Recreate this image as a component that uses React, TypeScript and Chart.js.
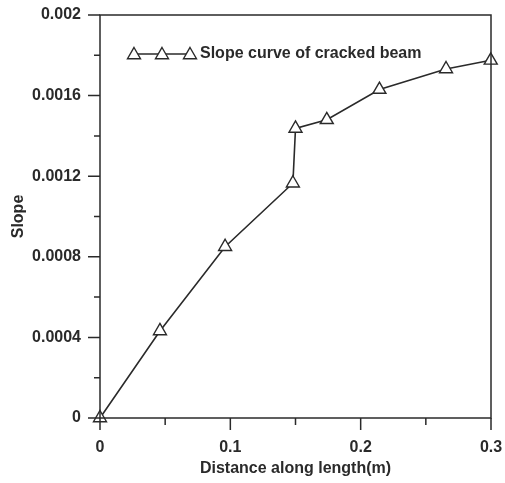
import React, { useEffect, useRef } from "react";
import { Chart, registerables } from "chart.js";
import { drawPoint } from "chart.js/helpers";

Chart.register(...registerables);

const distance = [0, 0.046, 0.096, 0.148, 0.15, 0.174, 0.2144, 0.2655, 0.2998];
const slope = [0, 0.000432, 0.00085, 0.001165, 0.001437, 0.00148, 0.00163, 0.001732, 0.001775];
const seriesLabel = "Slope curve of cracked beam";
const xTickValues = [0, 0.05, 0.1, 0.15, 0.2, 0.25, 0.3];
const xTickLabels = ["0", "", "0.1", "", "0.2", "", "0.3"];
const yTickValues = [0, 0.0002, 0.0004, 0.0006, 0.0008, 0.001, 0.0012, 0.0014, 0.0016, 0.0018, 0.002];
const yTickLabels = ["0", "", "0.0004", "", "0.0008", "", "0.0012", "", "0.0016", "", "0.002"];
const xTitle = "Distance along length(m)";
const yTitle = "Slope";

const INK = "#2a2a2a";
const FONT = "'Liberation Sans', Arial, sans-serif";
const PT_R = 7.5;

const framePlugin = {
  id: "frame",
  afterDraw(chart: any) {
    const { ctx, chartArea } = chart;
    const { left, right, top, bottom } = chartArea;
    ctx.save();
    ctx.strokeStyle = INK;
    ctx.lineWidth = 1.5;
    ctx.strokeRect(left, top, right - left, bottom - top);
    const xs = chart.scales.x;
    const ys = chart.scales.y;
    ctx.lineWidth = 1.5;
    ctx.beginPath();
    xTickValues.forEach((v, i) => {
      const px = xs.getPixelForValue(v);
      const len = xTickLabels[i] ? 12 : 7;
      ctx.moveTo(px, bottom);
      ctx.lineTo(px, bottom + len);
    });
    yTickValues.forEach((v, i) => {
      const py = ys.getPixelForValue(v);
      const len = yTickLabels[i] ? 12 : 6;
      ctx.moveTo(left, py);
      ctx.lineTo(left - len, py);
    });
    ctx.stroke();

    // legend inside plot
    const ly = 54;
    const lx0 = 130;
    const lx1 = 194;
    ctx.beginPath();
    ctx.lineWidth = 1.6;
    ctx.moveTo(lx0, ly);
    ctx.lineTo(lx1, ly);
    ctx.stroke();
    [134, 162, 190].forEach((x) => {
      ctx.fillStyle = "#ffffff";
      ctx.strokeStyle = INK;
      ctx.lineWidth = 1.4;
      drawPoint(ctx, { pointStyle: "triangle", radius: PT_R, rotation: 0, borderWidth: 1.4 }, x, ly + 1);
    });
    ctx.fillStyle = INK;
    ctx.font = `bold 16px ${FONT}`;
    ctx.textBaseline = "middle";
    ctx.textAlign = "left";
    ctx.fillText(seriesLabel, 200, ly);
    ctx.restore();
  },
};

export default function App() {
  const ref = useRef<HTMLCanvasElement>(null);
  useEffect(() => {
    if (!ref.current) return;
    const chart = new Chart(ref.current, {
      type: "line",
      data: {
        datasets: [
          {
            label: seriesLabel,
            data: distance.map((x, i) => ({ x, y: slope[i] })),
            borderColor: INK,
            borderWidth: 1.6,
            pointStyle: "triangle",
            pointRadius: PT_R,
            pointBorderWidth: 1.4,
            pointBackgroundColor: "#ffffff",
            pointBorderColor: INK,
            tension: 0,
            clip: false as any,
          },
        ],
      },
      options: {
        responsive: false,
        animation: false,
        devicePixelRatio: 1,
        layout: { padding: { top: 15, right: 14, left: 0, bottom: 0 } },
        plugins: { legend: { display: false }, tooltip: { enabled: false } },
        scales: {
          x: {
            type: "linear",
            min: 0,
            max: 0.3,
            afterBuildTicks: (s: any) => {
              s.ticks = xTickValues.map((value) => ({ value }));
            },
            afterFit: (s: any) => {
              s.height = 65;
              s.paddingLeft = 0;
              s.paddingRight = 0;
            },
            border: { display: false },
            grid: { drawOnChartArea: false, drawTicks: true, tickLength: 12, color: "transparent" },
            ticks: {
              autoSkip: false,
              maxRotation: 0,
              padding: 8,
              color: INK,
              font: { family: FONT, size: 16, weight: "bold" },
              callback: (_v: any, i: number) => xTickLabels[i],
            },
            title: {
              display: true,
              text: xTitle,
              color: INK,
              font: { family: FONT, size: 16, weight: "bold" },
              padding: { top: 0, bottom: 5 },
            },
          },
          y: {
            type: "linear",
            min: 0,
            max: 0.002,
            afterBuildTicks: (s: any) => {
              s.ticks = yTickValues.map((value) => ({ value }));
            },
            afterFit: (s: any) => {
              s.width = 100;
              s.paddingTop = 0;
              s.paddingBottom = 0;
            },
            border: { display: false },
            grid: { drawOnChartArea: false, drawTicks: true, tickLength: 12, color: "transparent" },
            ticks: {
              autoSkip: false,
              padding: 7,
              color: INK,
              font: { family: FONT, size: 16, weight: "bold" },
              callback: (_v: any, i: number) => yTickLabels[i],
            },
            title: {
              display: true,
              text: yTitle,
              color: INK,
              font: { family: FONT, size: 16, weight: "bold" },
              padding: { top: 9, bottom: 0 },
            },
          },
        },
      },
      plugins: [framePlugin],
    });
    return () => chart.destroy();
  }, []);
  return (
    <div style={{ position: "absolute", left: 0, top: 0, width: 505, height: 483, background: "#fff" }}>
      <canvas ref={ref} width={505} height={483} style={{ display: "block" }} />
    </div>
  );
}
